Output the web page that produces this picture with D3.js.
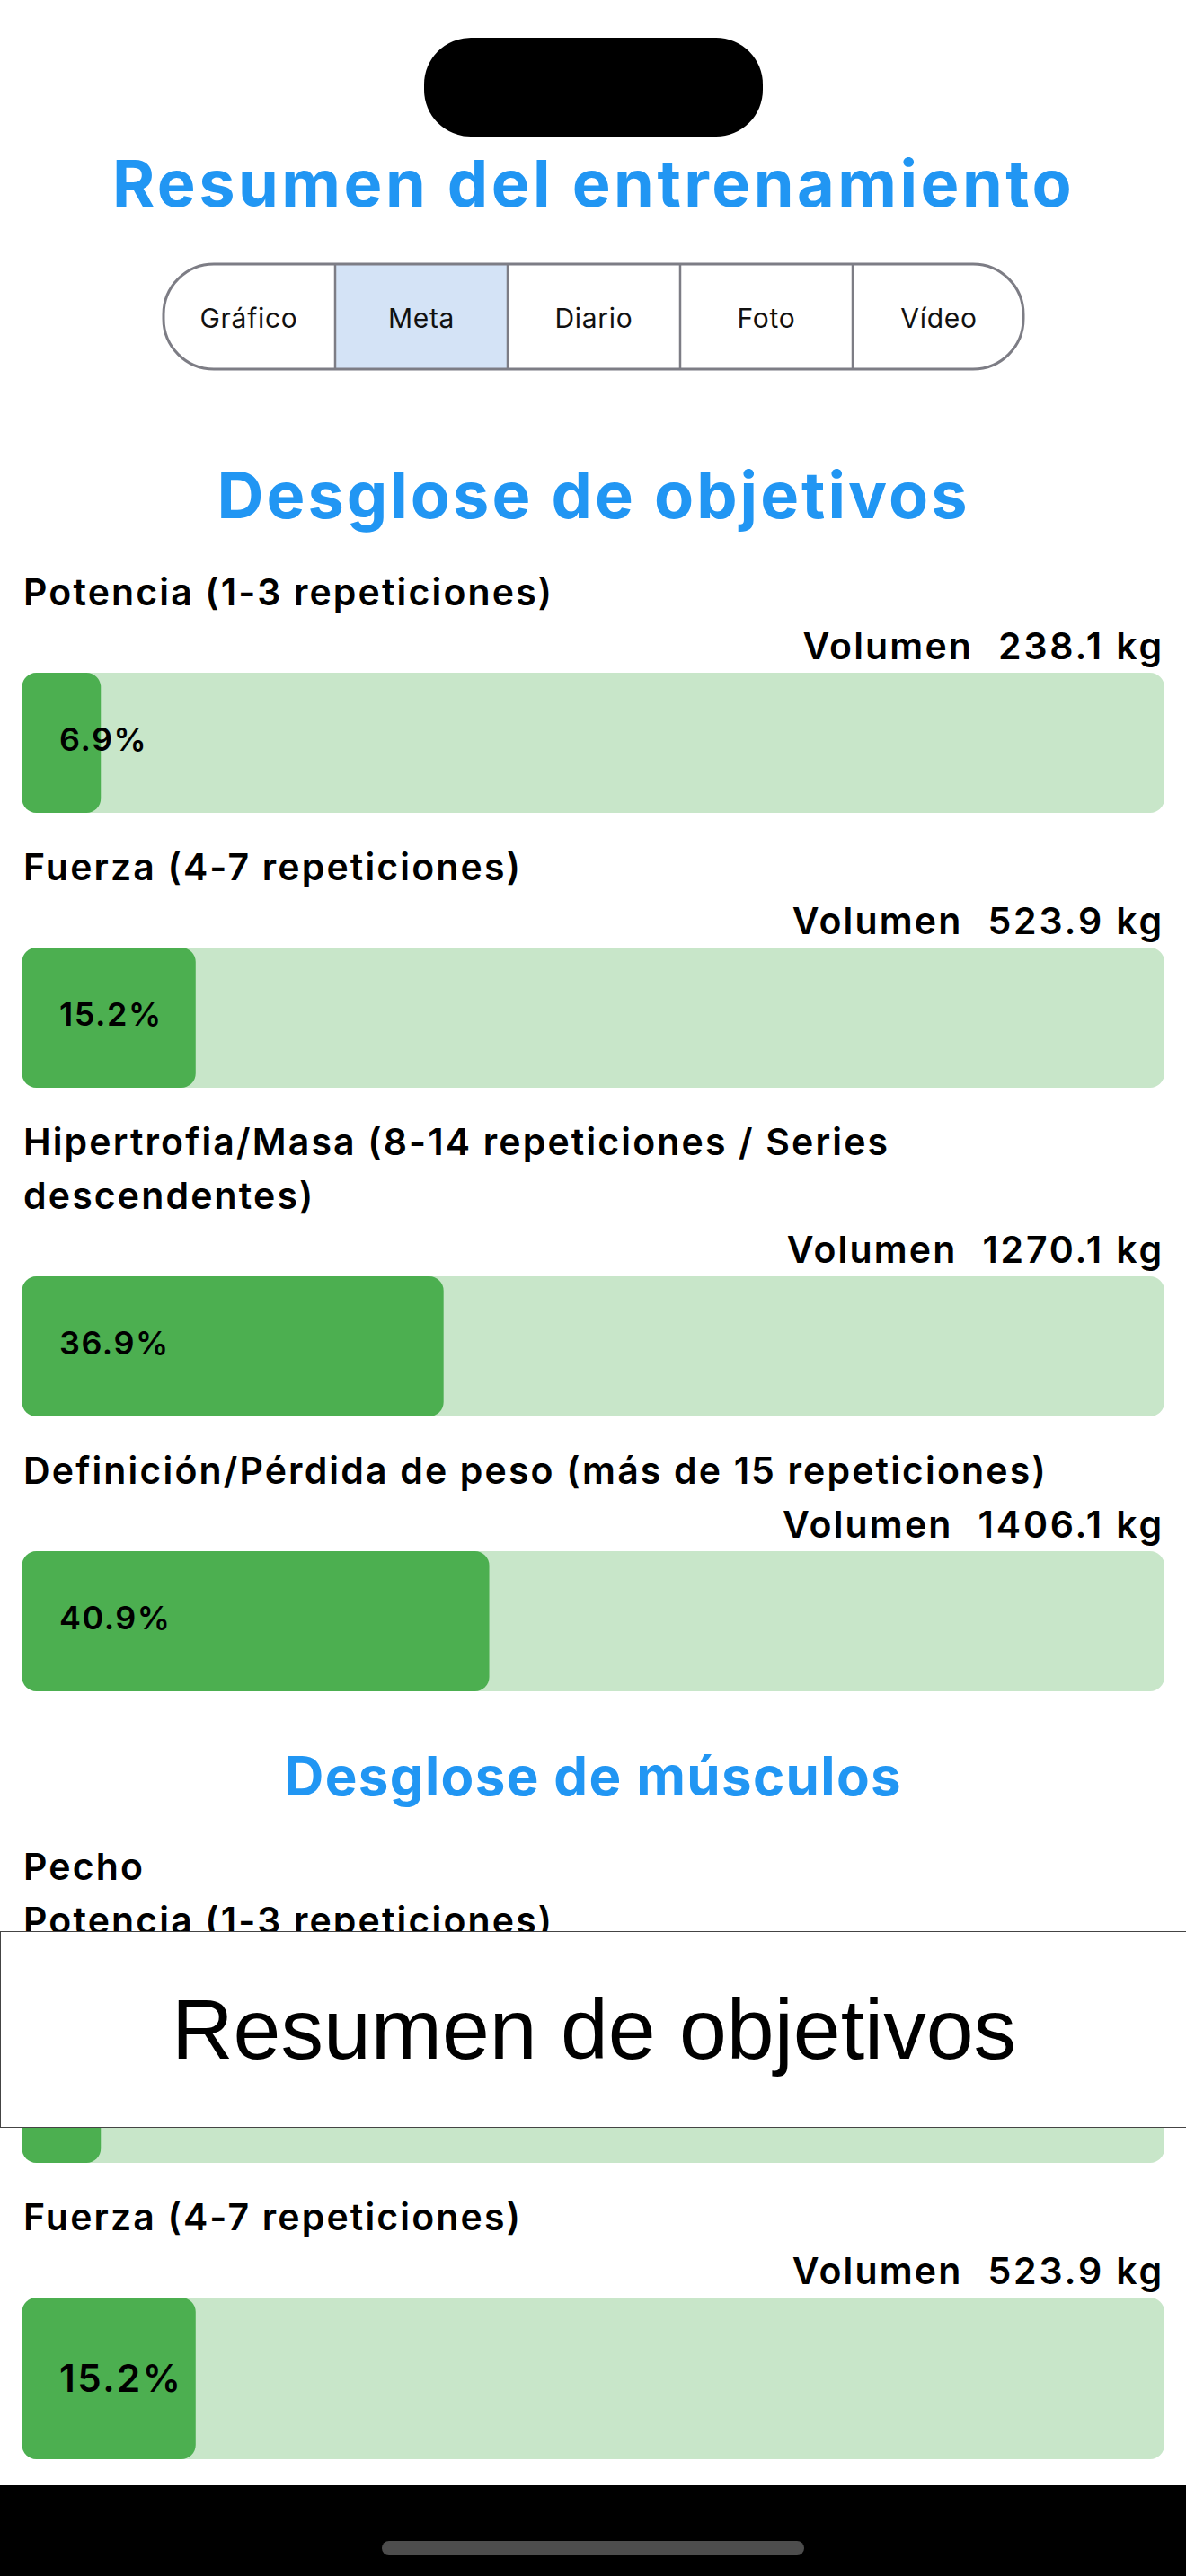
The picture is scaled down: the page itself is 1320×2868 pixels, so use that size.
<!DOCTYPE html>
<html><head><meta charset="utf-8">
<script src="https://cdn.jsdelivr.net/npm/d3@7/dist/d3.min.js"></script>
<style>html,body{margin:0;padding:0;background:#fff}svg{display:block}text{font-family:Inter,sans-serif}</style>
</head><body><div id="c"></div>
<script>
const tabs = ["Gráfico","Meta","Diario","Foto","Vídeo"];
const activeTab = "Meta";
const goalLabels = ["Potencia (1-3 repeticiones)","Fuerza (4-7 repeticiones)","Hipertrofia/Masa (8-14 repeticiones / Series descendentes)","Definición/Pérdida de peso (más de 15 repeticiones)"];
const goalPct = [6.9,15.2,36.9,40.9];
const goalVolume = [238.1,523.9,1270.1,1406.1];
const muscleGroup = "Pecho";
const muscleLabels = ["Potencia (1-3 repeticiones)","Fuerza (4-7 repeticiones)"];
const musclePct = [6.9,15.2];
const muscleVolume = [238.1,523.9];
const volumeWord = "Volumen";

const W=1320,H=2868,LEFT=24.5,RIGHT=1296;
const svg=d3.select("#c").append("svg").attr("width",W).attr("height",H).attr("viewBox",`0 0 ${W} ${H}`);
const x=d3.scaleLinear().domain([0,100]).range([0,RIGHT-LEFT]);
const BLUE="#2196f3",GREEN="#4caf50",TRACK="#c8e6c9";

svg.append("rect").attr("x",472).attr("y",42).attr("width",377).attr("height",110).attr("rx",52).attr("fill","#000");
function heading(t,y,size,ls){return svg.append("text").attr("x",W/2+0.5).attr("y",y).attr("text-anchor","middle")
  .attr("font-size",size).attr("font-weight",700).attr("letter-spacing",ls).attr("fill",BLUE).text(t);}
heading("Resumen del entrenamiento",230,72,3.5);

const segDiv=d3.scaleLinear().domain([0,5]).range([181,1141]);
const sy=294,sh=117,R=56;
const tabX=i=>segDiv(i);
const clipId="segclip";
svg.append("clipPath").attr("id",clipId).append("rect").attr("x",182).attr("y",sy).attr("width",957).attr("height",sh).attr("rx",R);
const g=svg.append("g");
g.selectAll("rect.act").data(tabs.filter(d=>d===activeTab)).join("rect").attr("class","act")
  .attr("x",d=>tabX(tabs.indexOf(d))).attr("y",sy).attr("width",192).attr("height",sh).attr("fill","#d4e3f6").attr("clip-path",`url(#${clipId})`);
g.selectAll("line").data(tabs.slice(1)).join("line")
  .attr("x1",(d,i)=>tabX(i+1)).attr("x2",(d,i)=>tabX(i+1)).attr("y1",sy).attr("y2",sy+sh)
  .attr("stroke","#7d7d85").attr("stroke-width",2.5);
g.append("rect").attr("x",182).attr("y",sy).attr("width",957).attr("height",sh).attr("rx",R).attr("fill","none").attr("stroke","#7d7d85").attr("stroke-width",3);
g.selectAll("text").data(tabs).join("text").attr("x",(d,i)=>tabX(i)+96).attr("y",365).attr("text-anchor","middle")
  .attr("font-size",30).attr("font-weight",400).attr("letter-spacing",0.7).attr("fill","#111").text(d=>d);

const LABEL=41,LS=2.15,LINE=60,WEIGHT=600;
function wrap(t,maxW){
  const probe=svg.append("text").attr("font-size",LABEL).attr("font-weight",WEIGHT).attr("letter-spacing",LS);
  const lines=[];let cur="";
  t.split(" ").forEach(w=>{const n=cur?cur+" "+w:w;probe.text(n);
    if(probe.node().getComputedTextLength()>maxW&&cur){lines.push(cur);cur=w;}else cur=n;});
  lines.push(cur);probe.remove();return lines;
}
function textAt(px,py,t,anchor){return svg.append("text").attr("x",px).attr("y",py).attr("text-anchor",anchor||"start").attr("font-size",LABEL).attr("font-weight",WEIGHT).attr("letter-spacing",LS).attr("fill","#000").text(t);}

function row(label,pct,vol,y,barH,pctSize,pctLs,pctOff){
  const lines=wrap(label,RIGHT-LEFT);
  lines.forEach((l,i)=>textAt(26,y+1+i*LINE,l));
  y+=(lines.length-1)*LINE+LINE;
  const v=textAt(RIGHT,y+1,`${vol.toFixed(1)} kg`,"end").attr("letter-spacing",2.85);
  textAt(RIGHT-v.node().getComputedTextLength()-28,y+1,volumeWord,"end");
  const top=y+16;
  svg.append("rect").attr("x",LEFT).attr("y",top).attr("width",x(100)).attr("height",barH).attr("rx",16).attr("fill",TRACK);
  svg.append("rect").attr("x",LEFT).attr("y",top).attr("width",x(pct)).attr("height",barH).attr("rx",16).attr("fill",GREEN);
  svg.append("text").attr("x",66).attr("y",top+barH/2+pctOff).attr("font-size",pctSize).attr("font-weight",WEIGHT).attr("letter-spacing",pctLs).attr("fill","#000").text(pct.toFixed(1)+"%");
  return top+barH+74;
}

heading("Desglose de objetivos",577,72,3.05);
let y=673;
goalLabels.forEach((l,i)=>{y=row(l,goalPct[i],goalVolume[i],y,156,36,1.5,9);});
heading("Desglose de músculos",1999,60,1.35);
textAt(26,2093,muscleGroup);
y=2152;
muscleLabels.forEach((l,i)=>{y=row(l,musclePct[i],muscleVolume[i],y,180,42,2.5,15);});

svg.append("rect").attr("x",0.5).attr("y",2150.5).attr("width",W).attr("height",218).attr("fill","#fff").attr("stroke","#444").attr("stroke-width",1);
svg.append("text").attr("x",W/2+1).attr("y",2292).attr("text-anchor","middle").style("font-family","'Liberation Sans',Arial,sans-serif")
  .attr("font-size",95).attr("fill","#000").text("Resumen de objetivos");

svg.append("rect").attr("x",0).attr("y",2767).attr("width",W).attr("height",H-2767).attr("fill","#000");
svg.append("rect").attr("x",425).attr("y",2829).attr("width",470).attr("height",16).attr("rx",8).attr("fill","#4d4d4d");
</script></body></html>
